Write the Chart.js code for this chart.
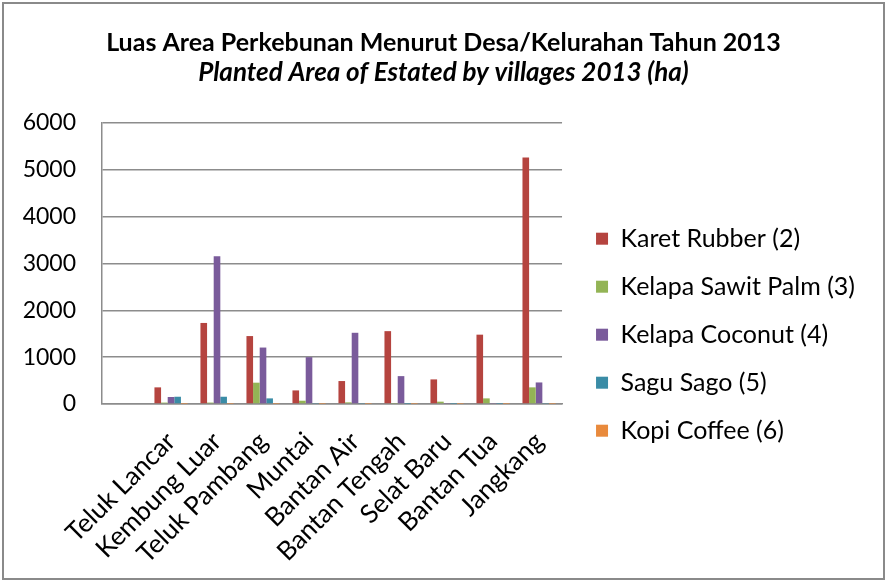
<!DOCTYPE html>
<html>
<head>
<meta charset="utf-8">
<script src="https://cdn.jsdelivr.net/npm/chart.js@4.4.0/dist/chart.umd.min.js"></script>
<style>
    body { margin: 0; background: #fff; }
    #wrap { position: relative; width: 886px; height: 580px; }
    #frame {
        position: absolute; left: 2px; top: 2px; width: 879px; height: 574px;
        border: 2px solid #8a8a8a; pointer-events: none;
    }
</style>
</head>
<body>
<div id="wrap">
    <canvas id="areaChart" width="886" height="580"></canvas>
    <div id="frame"></div>
</div>
<script>
// Villages (first slot is an empty row in the source table)
const villages = ['', 'Teluk Lancar', 'Kembung Luar', 'Teluk Pambang', 'Muntai', 'Bantan Air',
    'Bantan Tengah', 'Selat Baru', 'Bantan Tua', 'Jangkang'];

// Planted area (ha)
const rubber  = [null, 355, 1730, 1450, 290, 490, 1555, 525, 1480, 5260];
const palm    = [null, 30, 30, 455, 70, 35, 10, 50, 120, 355];
const coconut = [null, 150, 3155, 1205, 1000, 1520, 595, 10, 10, 460];
const sago    = [null, 155, 155, 120, 10, 10, 5, 5, 5, 10];
const coffee  = [null, 5, 5, 5, 5, 5, 5, 5, 5, 5];

const yTicks = [0, 1000, 2000, 3000, 4000, 5000, 6000];

const fontFamily = 'Lato, "Open Sans", sans-serif';

const ctx = document.getElementById('areaChart').getContext('2d');
const areaChart = new Chart(ctx, {
    type: 'bar',
    data: {
        labels: villages,
        datasets: [
            { label: 'Karet Rubber (2)', data: rubber, backgroundColor: '#b5443f' },
            { label: 'Kelapa Sawit Palm (3)', data: palm, backgroundColor: '#93b455' },
            { label: 'Kelapa Coconut (4)', data: coconut, backgroundColor: '#7a5b9b' },
            { label: 'Sagu Sago (5)', data: sago, backgroundColor: '#3a8ca6' },
            { label: 'Kopi Coffee (6)', data: coffee, backgroundColor: '#e98a3c' }
        ]
    },
    options: {
        responsive: false,
        animation: false,
        categoryPercentage: 0.72,
        barPercentage: 1.0,
        layout: {
            padding: { left: 22, right: 21, top: 28, bottom: 4 }
        },
        scales: {
            y: {
                min: 0,
                max: 6000,
                afterBuildTicks: (axis) => {
                    axis.ticks = yTicks.map(v => ({ value: v }));
                },
                afterFit: (axis) => { axis.width = 80; },
                ticks: {
                    color: '#000',
                    padding: 26,
                    font: { family: fontFamily, size: 23 },
                    callback: (v) => String(v)
                },
                grid: { color: '#8c8c8c', lineWidth: 1.5, drawTicks: false },
                border: { color: '#8c8c8c', width: 1.5 }
            },
            // empty spacer between plot and legend
            gap: {
                axis: 'y',
                position: 'right',
                ticks: { display: false },
                grid: { display: false },
                border: { display: false },
                afterFit: (axis) => { axis.width = 11; }
            },
            x: {
                grid: { display: false },
                border: { color: '#8c8c8c', width: 1.5 },
                afterFit: (axis) => { axis.height = 172; },
                ticks: {
                    color: '#000',
                    maxRotation: 45,
                    minRotation: 45,
                    autoSkip: false,
                    padding: 14,
                    font: { family: fontFamily, size: 26 }
                }
            }
        },
        plugins: {
            title: {
                display: true,
                text: 'Luas Area Perkebunan Menurut Desa/Kelurahan Tahun 2013',
                color: '#000',
                font: { family: fontFamily, size: 25, weight: 'bold', lineHeight: 1.2 },
                padding: { top: 0, bottom: 0 }
            },
            subtitle: {
                display: true,
                text: 'Planted Area of Estated by villages 2013 (ha)',
                color: '#000',
                font: { family: fontFamily, size: 26, weight: 'bold', style: 'italic', lineHeight: 1.15 },
                padding: { top: 0, bottom: 35 }
            },
            legend: {
                position: 'right',
                align: 'start',
                maxWidth: 400,
                title: {
                    display: true,
                    text: '',
                    font: { size: 1 },
                    padding: { top: 174, bottom: 0 }
                },
                labels: {
                    color: '#000',
                    boxWidth: 12,
                    boxHeight: 12,
                    padding: 23,
                    font: { family: fontFamily, size: 25 }
                }
            },
            tooltip: { enabled: false }
        }
    }
});
</script>
</body>
</html>
